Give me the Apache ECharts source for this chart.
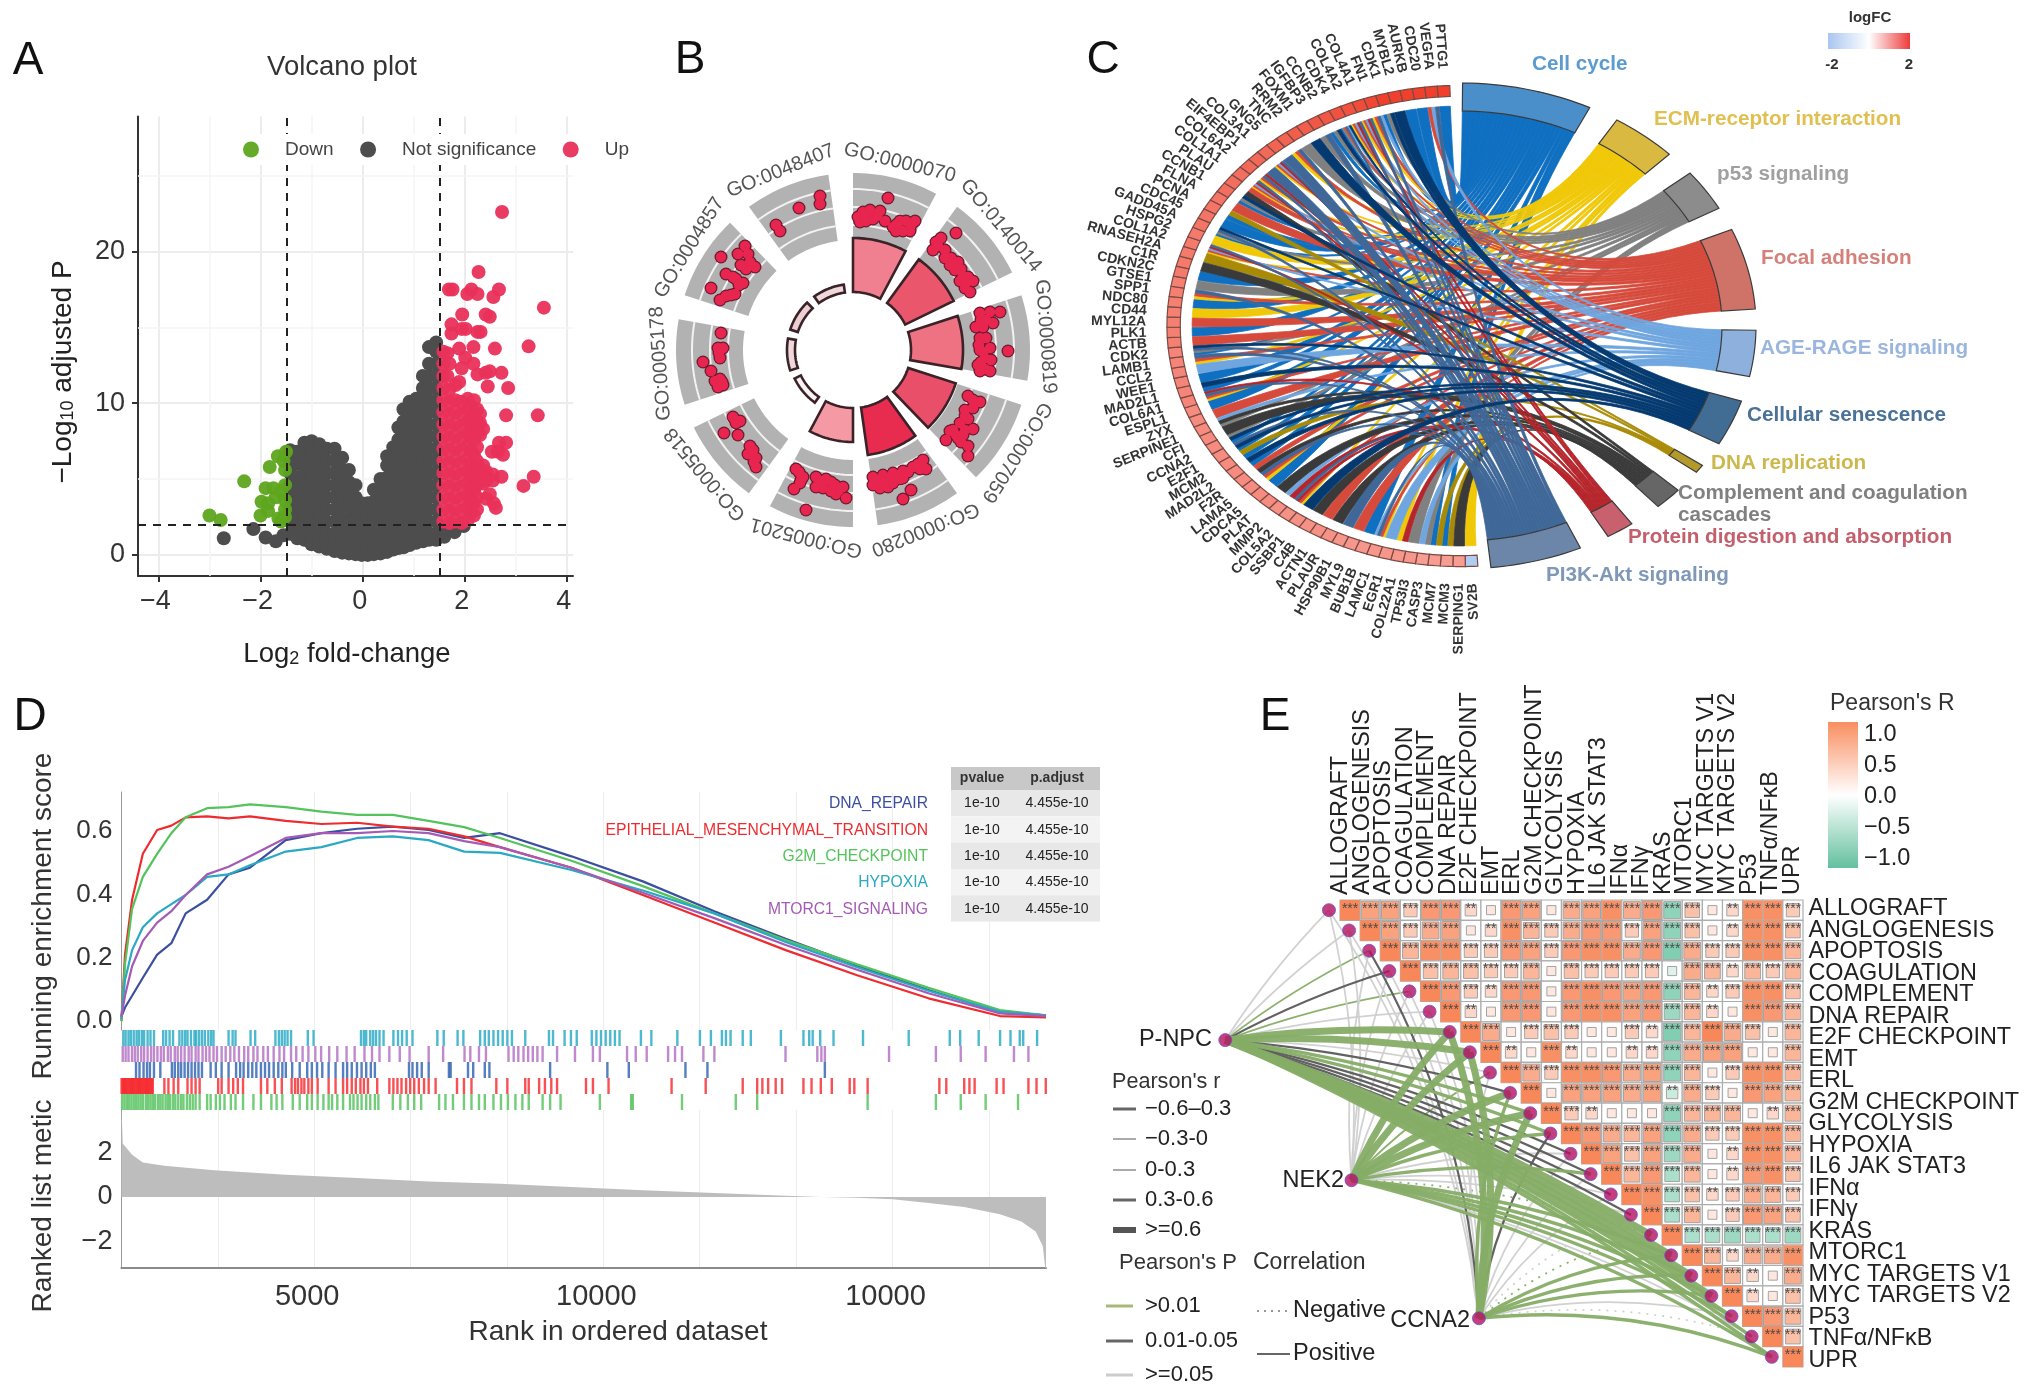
<!DOCTYPE html>
<html><head><meta charset="utf-8">
<style>html,body{margin:0;padding:0;background:#fff}#c{width:2032px;height:1394px}</style>
<script src="https://cdn.jsdelivr.net/npm/echarts@6/dist/echarts.min.js"></script>
</head><body><div id="c"></div>
<script>
const FONT='"Liberation Sans"';
/* ---------- A: volcano ---------- */
const volcanoDown=[[-2.32,4.85],[-3,2.6],[-2.78,2.3],[-1.82,5.8],[-1.66,6.5],[-1.5,6.8],[-1.55,6.2],[-1.9,4.4],[-1.75,4.4],[-1.6,4.2],[-1.7,3.8],[-1.52,3.6],[-1.52,5.6],[-1.52,4.6],[-1.98,3.5],[-1.85,3.4],[-2,2.6],[-1.85,2.9],[-1.65,2.4],[-1.52,2.5],[-1.52,3],[-1.6,2.2]];
const volcanoGreyColumns=[
[-1.42,[6.9,6.2,5.4,4.6,3.8,3,2.2,1.4]],[-1.28,[6.8,6,5.1,4.3,3.5,2.7,1.9,1.1]],[-1.14,[7.4,6.6,5.8,5,4.2,3.4,2.6,1.8,1]],
[-1,[7.5,6.7,5.9,5.1,4.3,3.5,2.7,1.9,1.2,.7]],[-.85,[7.3,6.5,5.7,4.9,4.1,3.3,2.5,1.7,1,.55]],[-.7,[7,6.2,5.4,4.6,3.8,3,2.2,1.4,.8,.4]],
[-.55,[7,6.2,5.4,4.6,3.8,3,2.2,1.4,.7,.25]],[-.4,[6.4,5.6,4.8,4,3.2,2.4,1.6,.9,.15]],[-.27,[5.6,4.8,4,3.2,2.4,1.6,.8,.1]],
[-.14,[4.6,3.8,3,2.2,1.4,.6,.05]],[-.02,[3.4,2.6,1.8,1,.3,0]],[.1,[3.4,2.6,1.8,1,.3,0]],[.22,[4.3,3.5,2.7,1.9,1.1,.4,.05]],
[.35,[5,4.2,3.4,2.6,1.8,1,.3,.1]],[.48,[5.9,6.5,5.1,4.3,3.5,2.7,1.9,1.1,.4,.2]],[.6,[7.1,6.3,5.5,4.7,3.9,3.1,2.3,1.5,.8,.35]],
[.7,[8.4,7.6,6.8,6,5.2,4.4,3.6,2.8,2,1.2,.45]],[.8,[9.6,8.8,8,7.2,6.4,5.6,4.8,4,3.2,2.4,1.6,.9,.5]],[.92,[10.1,9.3,8.5,7.7,6.9,6.1,5.3,4.5,3.7,2.9,2.1,1.3,.65]],
[1.05,[10.3,9.5,8.7,7.9,7.1,6.3,5.5,4.7,3.9,3.1,2.3,1.5,.8]],[1.18,[11.8,11,10.2,9.4,8.6,7.8,7,6.2,5.4,4.6,3.8,3,2.2,1.4,.9]],
[1.3,[13.7,12.6,11.8,11,10.2,9.4,8.6,7.8,7,6.2,5.4,4.6,3.8,3,2.2,1.4,1]],[1.44,[14,13.4,12.6,11.8,11,10.2,9.4,8.6,7.8,7,6.2,5.4,4.6,3.8,3,2.2,1.4,1]],
[-2.72,[1.1]],[-2.14,[1.7]],[-1.9,[1.15]],[-1.7,[.9]],[-1.55,[1.3]],[1.6,[1.2,1.8]],[1.8,[1.5,1.9]],[1.98,[1.9]]];
const volcanoUpColumns=[
[1.58,[2.2,3,3.8,4.6,5.4,6.2,7,7.8,8.6,9.4,10.2,11,11.8,12.6,13.4]],[1.7,[2.1,2.9,3.7,4.5,5.3,6.1,6.9,7.7,8.5,9.3,10.1,10.9]],
[1.82,[2.2,3,3.8,4.6,5.4,6.2,7,7.8,8.6,9.4,10.2,11.2]],[1.94,[2.1,2.9,3.7,4.5,5.3,6.1,6.9,7.7,8.5,9.3,10.1]],
[2.06,[2.3,3.1,3.9,4.7,5.5,6.3,7.2,8,8.8,9.6,10.3]],[2.18,[2.6,3.4,4.2,5,5.8,6.6,7.6,8.4,9.2,10.2]],[2.12,[2.8,3.6,4.4,5.2,6,6.9,7.9,8.8,9.8]],
[2.24,[3,3.8,4.6,5.4,6.2,7.1,8,8.8,9.6]],[2.3,[5,5.7,7.9,8.7,9.3]],[2.36,[4.7,5.3,5.9,8.3]],[2.42,[3.7,4.9,5.5]],[2.55,[5.3,4.9]]];
const volcanoUpSingles=[[2.73,22.6],[2.27,18.65],[1.69,17.5],[1.76,17.5],[2.05,17.2],[2.13,17.5],[2.25,17.2],[2.67,17.5],[2.56,17],[3.55,16.3],[1.95,15.85],[2.41,15.85],[2.49,15.7],[1.74,15.2],[1.74,14.6],[1.94,14.9],[2.02,14.9],[2.25,14.7],[2.31,14.7],[3.25,13.75],[2.59,13.6],[2.17,13.7],[1.89,13.6],[1.66,13.3],[2.01,13],[2.72,12],[2.85,11],[2.45,11.1],[2.41,12],[2.49,12.1],[2.25,11.9],[2.17,12.6],[1.94,12.3],[1.7,12.6],[1.66,11.8],[1.89,11.4],[2.81,9.2],[3.43,9.2],[2.81,7.4],[2.67,7.4],[2.53,6.8],[2.65,6.8],[2.75,6.6],[3.35,5.15],[3.15,4.55],[2.72,5.15],[2.49,4],[2.57,3.4],[2.61,3.1]];
const volcanoCutX=[-1.485,1.51], volcanoCutY=[2];
const expand=c=>c.flatMap(([x,ys])=>ys.map(y=>[x,y]));

/* ---------- B: GO circle ---------- */
const goTerms=['GO:0000070','GO:0140014','GO:0000819','GO:0007059','GO:0000280','GO:0005201','GO:0005518','GO:0005178','GO:0004857','GO:0048407'];
const goBarOuter=[112,112,110,108,106,92,65,66,66,66];
const goBarColor=['#f0808f','#ea566c','#ef7282','#e94f68','#e82c4f','#f59aa5','#f9f3f3','#eed8da','#eccfd3','#eed8da'];
const goPoints=[[35,152],[5,133],[10,138],[17,140],[7,128],[13,129],[20,131],[27,139],[32,129],[40,123],[47,129],[53,129],[62,129],[57,119],[50,119],[43,119],[12,132],[24,134],[44,126],[58,125],
[103,117],[83,108],[88,112],[80,100],[92,100],[98,92],[97,85],[105,88],[108,81],[115,73],[120,69],[107,69],[112,62],[117,58],[85,104],[92,92],[102,80],[110,74],[113,68],
[137,38],[147,38],[127,37],[123,23],[130,23],[140,27],[127,12],[133,12],[127,0],[137,2],[155,-1],[132,-8],[138,-10],[125,-15],[132,-19],[127,-21],[137,-21],[128,30],[126,5],[130,-2],[128,-12],[133,30],
[115,-46],[127,-52],[120,-58],[112,-60],[115,-69],[107,-73],[120,-79],[97,-81],[103,-85],[93,-90],[108,-92],[115,-96],[115,-106],[120,-50],[112,-66],[112,-80],[100,-80],[105,-88],[110,-85],
[20,-127],[30,-125],[40,-123],[50,-121],[60,-117],[70,-110],[73,-119],[67,-119],[47,-129],[27,-138],[35,-137],[58,-140],[50,-149],[40,-133],[20,-135],[25,-130],[35,-128],[45,-125],[55,-122],[65,-114],[30,-132],[50,-128],
[-57,-119],[-50,-127],[-53,-133],[-59,-139],[-47,-160],[-37,-127],[-27,-129],[-18,-135],[-10,-137],[-7,-148],[-17,-144],[-30,-138],[-37,-137],[-54,-122],[-52,-130],[-32,-131],[-22,-132],[-14,-140],[-22,-141],
[-120,-67],[-113,-71],[-115,-85],[-129,-83],[-103,-96],[-105,-104],[-97,-108],[-97,-117],[-117,-73],[-118,-70],[-100,-100],[-99,-112],
[-132,17],[-135,2],[-130,2],[-133,-8],[-150,-12],[-142,-21],[-133,-29],[-130,-35],[-135,-37],[-138,-31],[-134,-3],[-136,-32],[-131,-32],
[-132,93],[-142,62],[-108,104],[-115,96],[-105,96],[-98,83],[-107,81],[-127,76],[-117,71],[-110,67],[-118,56],[-127,54],[-133,50],[-112,85],[-120,73],[-122,55],[-114,65],[-103,88],
[-77,125],[-73,119],[-54,142],[-33,154],[-33,146]];

/* ---------- C: chord ---------- */
const pathways=['Cell cycle','ECM-receptor interaction','p53 signaling','Focal adhesion','AGE-RAGE signaling','Cellular senescence','DNA replication','Complement and coagulation\ncascades','Protein digestion and absorption','PI3K-Akt signaling'];
const pathwayCode='CEPFASDXRK';
const pathwayStart=[0.5,32,51,66.6,91,108,125,132.5,144.5,156];
const pathwayEnd=[26,45,61,86,102,119,127,138,150,174];
const ribbonColor=['#0f6fc0','#f0c808','#808080','#d64a3c','#6fa6e0','#053a70','#a88a05','#3a3a3a','#b5252b','#3f6797'];
const bandColor=['#4a8fca','#d9b940','#8c8c8c','#cf7268','#8eb0dc','#416c93','#b39a2b','#666666','#c8606e','#6c86a9'];
const pathwayLabelColor=['#5b9bd0','#e0c050','#a0a0a0','#d4817a','#9ab5de','#4a7198','#cdb84d','#808080','#c4606d','#7f98b8'];
const genes=['SV2B','SERPING1','MCM3','MCM7','CASP3','TP53I3','COL22A1','EGR1','LAMC1','BUB1B','MYL9','HSP90B1','PLAUR','ACTN1','C4B','SSBP1','COL5A2','MMP2','PLAT','CDCA5','LAMA5','F2R','MAD2L2','MCM2','E2F1','CCNA2','CFI','SERPINE1','ZYX','ESPL1','COL6A1','MAD2L1','WEE1','CCL2','LAMB1','CDK2','ACTB','PLK1','MYL12A','CD44','NDC80','SPP1','GTSE1','CDKN2C','C1R','RNASEH2A','COL1A2','HSPG2','GADD45A','CDC45','PCNA','FLNA','CCNB1','PLAU','COL1A1','COL6A2','EIF4EBP1','COL3A1','GNG5','TNC','RRM2','FOXM1','IGFBP3','CCNB2','CDK4','COL4A2','COL4A1','FN1','CDK1','MYBL2','AURKB','CDC20','VEGFA','PTTG1'];
const geneLinks=['E','X','DC','DC','PA','P','RE','A','EFKA','C','F','K','X','F','X','S','EFRK','RA','X','C','EFK','XF','CS','CD','CSK','CSP','X','PXA','F','C','EFKR','CS','C','A','EFK','CPKS','F','C','F','E','C','EFK','P','C','X','D','EFARK','E','CPKS','C','CD','F','CPS','XF','EFARK','EFKR','K','EFARK','K','EFK','P','S','PK','CPS','CPFKAS','EFARK','EFARK','EFKA','CPS','S','C','C','FAK','C'];
const geneLogFC=[-1.2,.85,.85,.85,.85,.9,.9,.9,.9,.9,.9,.9,.95,.95,.95,.95,.95,.95,1,1,1,1,1,1,1,1,1,1,1,1,1.05,1.05,1.05,1.05,1.05,1.05,1.1,1.1,1.1,1.1,1.1,1.1,1.1,1.15,1.15,1.15,1.15,1.15,1.2,1.2,1.2,1.2,1.25,1.25,1.25,1.3,1.3,1.3,1.35,1.35,1.4,1.4,1.45,1.45,1.5,1.5,1.55,1.6,1.65,1.7,1.75,1.8,1.85,1.9];

/* ---------- D: GSEA ---------- */
const gseaRanks=[1667,1729,1852,2038,2285,2531,2778,3149,3520,3890,4508,5125,5743,6360,6978,7595,8213,9448,10683,11918,13153,14388,15623,16858,17654];
const esG2M=[0,.18,.354,.455,.528,.593,.643,.672,.675,.684,.675,.661,.651,.651,.632,.612,.578,.506,.426,.34,.256,.179,.105,.035,.018];
const esEMT=[0,.21,.383,.528,.603,.617,.643,.646,.64,.646,.632,.622,.626,.614,.607,.583,.549,.484,.398,.311,.224,.145,.072,.016,.012];
const esDNA=[.014,.043,.08,.137,.21,.246,.34,.383,.463,.484,.571,.593,.607,.614,.603,.578,.593,.52,.441,.347,.26,.176,.098,.028,.018];
const esHYP=[.007,.13,.224,.296,.34,.369,.398,.455,.463,.492,.535,.549,.578,.583,.571,.535,.531,.477,.412,.34,.25,.17,.096,.03,.018];
const esMTOR=[.014,.08,.173,.253,.311,.347,.398,.463,.487,.52,.578,.593,.593,.6,.593,.568,.549,.484,.405,.325,.24,.162,.088,.024,.016];
const geneSets=['DNA_REPAIR','EPITHELIAL_MESENCHYMAL_TRANSITION','G2M_CHECKPOINT','HYPOXIA','MTORC1_SIGNALING'];
const geneSetColor=['#3b4fa0','#ee2b2f','#55c35c','#2aa9c2','#a45bb5'];
const tableHead=['pvalue','p.adjust'];
const tablePvalue=['1e-10','1e-10','1e-10','1e-10','1e-10'];
const tableAdjust=['4.455e-10','4.455e-10','4.455e-10','4.455e-10','4.455e-10'];
const rugHypoxia=[1700,1740,1790,1830,1880,1930,1970,2020,2060,2120,2170,2230,2390,2440,2500,2560,2670,2720,2770,2810,2870,2930,2960,3010,3060,3110,3170,3220,3260,3520,3590,3640,3900,3980,4330,4390,4440,4490,4540,4600,4890,4990,5810,5860,5900,5970,6020,6070,6130,6200,6370,6450,6520,6600,6700,7130,7240,7480,7580,7870,7950,8020,8100,8180,8260,8340,8420,8650,9060,9130,9330,9440,9540,9800,9880,9960,10040,10120,10200,10280,10650,10830,11280,11670,11860,12050,12120,12200,12410,12550,13070,13460,13560,13620,13750,13980,14490,15280,15990,16170,16490,16860,17040,17200,17260,17500];
const rugMtorc=[1690,1740,1790,1850,1900,1950,2010,2060,2120,2180,2230,2290,2350,2400,2470,2520,2590,2640,2700,2760,2830,2880,2950,3000,3070,3130,3190,3260,3320,3400,3470,3550,3620,3700,3790,3860,3950,4020,4120,4200,4300,4400,4480,4600,4690,4800,4900,5020,5120,5260,5400,5560,5700,5870,6000,6130,6300,6480,6650,6980,7230,7600,7700,7850,7970,8360,8450,8530,8620,8700,8780,8860,8950,9200,9510,9820,9940,10410,10560,10750,11120,11240,11360,11730,11920,13150,13700,13770,13830,14940,15750,16180,16610,17100,17350];
const rugDNA=[1920,1980,2050,2110,2160,2230,2340,2540,2590,2650,2700,2760,2820,2880,2940,3000,3060,3210,3300,3400,3520,3650,3720,3780,3860,3930,4000,4080,4150,4220,4300,4380,4450,4510,4620,4750,4880,4960,5050,5140,5250,5370,5500,5570,5650,5740,5820,5900,5980,6050,6640,6700,6780,6860,6980,7330,7360,7660,7750,7950,8030,9080,10070,10440,11420,11800,13830];
const rugEMT=[1670,1690,1710,1730,1750,1770,1790,1810,1830,1850,1870,1890,1910,1930,1950,1970,1990,2010,2030,2050,2070,2090,2110,2130,2150,2170,2190,2210,2410,2480,2570,2650,2810,2880,2950,3020,3340,3400,3520,3600,3680,3770,4080,4190,4320,4440,4610,4670,4720,4780,4830,4900,4960,5060,5250,5370,5500,5570,5650,5720,5800,5860,5930,6090,6300,6370,6440,6510,6590,6660,6730,6810,6900,6980,7100,7470,7590,7720,8150,8340,8650,8710,8890,8990,9100,9200,9700,9820,10090,11180,11770,12410,12660,12750,12850,12980,13090,13460,13600,13760,13950,14260,14340,14570,15810,15930,16240,16330,16420,16800,16920,17350,17490,17650];
const rugG2M=[1680,1720,1760,1800,1840,1880,1920,1960,2000,2040,2090,2130,2170,2210,2250,2300,2340,2380,2430,2470,2510,2560,2600,2650,2700,2740,2800,2850,2900,2950,3020,3150,3210,3300,3370,3450,3560,3640,3770,3950,4080,4260,4350,4450,4630,4750,4880,4960,5060,5160,5250,5310,5400,5500,5620,5680,5750,5820,5900,5970,6050,6110,6360,6490,6620,6730,6850,7160,7270,7400,7590,7720,7850,7950,8100,8230,8350,8480,8600,8710,8950,9080,9260,9940,10480,10510,11360,12290,12660,14570,15750,16180,16610,17170];
const rugRows=[rugHypoxia,rugMtorc,rugDNA,rugEMT,rugG2M];
const rugNames=['HYPOXIA','MTORC1_SIGNALING','DNA_REPAIR','EPITHELIAL_MESENCHYMAL_TRANSITION','G2M_CHECKPOINT'];
const rugColor=['#22a7c2','#b06cc0','#2a5fae','#f5262a','#4fbf58'];
const metricRanks=[1667,1690,1852,2038,2408,3272,4508,5743,6978,8213,9448,10683,11918,13153,13770,14388,15005,15623,16240,16858,17228,17475,17598,17654];
const metricValues=[4.2,2.4,1.9,1.55,1.4,1.2,1,.85,.7,.6,.45,.3,.18,.06,0,-.03,-.1,-.27,-.45,-.78,-1.1,-1.55,-2.2,-3.5];
const gseaGrid=[3333,5000,6667,8333,10000,11667,13333,15000,16667];

/* ---------- E: correlation ---------- */
const hallmarkLabels=['ALLOGRAFT','ANGLOGENESIS','APOPTOSIS','COAGULATION','COMPLEMENT','DNA REPAIR','E2F CHECKPOINT','EMT','ERL','G2M CHECKPOINT','GLYCOLYSIS','HYPOXIA','IL6 JAK STAT3','IFNα','IFNγ','KRAS','MTORC1','MYC TARGETS V1','MYC TARGETS V2','P53','TNFα/NFκB','UPR'];
const corrTenths=[
[10,7,7,3,8,8,2,1,8,7,1,6,7,9,6,8,-6,4,1,2,9,9,3],[10,7,3,6,7,1,2,9,5,3,6,8,8,3,7,-6,4,1,2,9,9,4],[10,5,9,9,3,3,8,7,3,8,9,9,6,8,-7,6,3,3,9,9,5],
[10,4,5,4,3,3,5,1,4,3,3,3,3,-1,6,5,2,5,3,5],[10,8,3,2,8,8,1,8,9,8,7,8,-6,5,2,3,9,9,4],[10,2,1,8,8,1,8,9,9,7,8,-5,5,2,1,9,8,5],
[10,6,1,3,4,3,1,1,3,2,-7,5,10,6,4,1,5],[10,2,1,9,2,1,1,2,2,-6,6,7,7,1,1,5],[10,6,3,9,9,8,6,7,-6,5,1,3,9,9,5],[10,1,7,7,7,6,7,-2,6,3,1,8,7,5],
[10,3,2,1,1,1,-6,5,5,5,1,2,5],[10,8,6,5,7,-6,6,3,3,9,9,5],[10,7,4,7,-5,6,1,2,9,9,5],[10,5,8,-4,5,1,2,8,9,4],[10,9,-4,4,2,3,6,5,3],[10,-4,5,1,3,8,7,4],
[10,-4,-4,-5,-4,-4,-5],[10,5,2,6,6,9],[10,5,2,1,6],[10,2,1,4],[10,8,5],[10,4],[10]];
const sourceNames=['P-NPC','NEK2','CCNA2'];
const sourcePos=[[-6.2,6.4],[.07,13.3],[6.4,20.1]];
const sourceCurve=[.05,.08,.12];
const linkR=[
[.1,.15,.2,.4,.25,.15,.7,.65,.15,.25,.55,.5,.2,.3,.3,.3,.6,.65,.7,.6,.5,.5,.5],
[.1,.1,.15,.15,.15,.1,.65,.65,.25,.6,.65,.5,.2,.3,.2,.15,-.2,.55,.55,.45,.3,.2,.35],
[.1,.1,.45,.1,.2,.15,.7,.7,.2,.55,.6,.4,.2,.2,.25,-.1,-.2,.45,.55,.4,.2,-.1,.4]];
const linkP=[
['l','l','g','d','g','l','g','g','l','d','g','g','d','d','d','d','g','g','g','g','g','g','g'],
['l','l','l','l','l','l','g','g','g','g','g','g','l','g','l','l','g','g','g','g','g','l','g'],
['l','l','d','l','l','l','g','g','l','g','g','d','l','l','l','l','g','g','g','g','l','l','g']];

/* ---------- helpers ---------- */
const T=(text,x,y,size,o={})=>({type:'text',x,y,rotation:o.rot||0,z:o.z||50,style:{text,fill:o.color||'#222',font:`${o.bold?'bold ':''}${size}px ${FONT}`,align:o.align||'left',verticalAlign:'middle',rich:o.rich}});
const R=(x,y,w,h,fill,z)=>({type:'rect',shape:{x,y,width:w,height:h},z:z||40,style:{fill}});
const L=(x1,y,x2,color,w,dash)=>({type:'line',shape:{x1,y1:y,x2,y2:y},z:40,style:{stroke:color,lineWidth:w,lineDash:dash}});
const hex=c=>[1,3,5].map(i=>parseInt(c.substr(i,2),16));
const mix=(a,b,t)=>{const A=hex(a),B=hex(b);return 'rgb('+A.map((v,i)=>Math.round(v+(B[i]-v)*t)).join(',')+')';};
const rad=d=>d*Math.PI/180;
const onCircle=(r,deg)=>[r*Math.sin(rad(deg)),r*Math.cos(rad(deg))];
const arcPoints=(api,a,b,r0,r1)=>{const p=[];const n=Math.max(3,Math.ceil(Math.abs(b-a)/1.5));
  for(let i=0;i<=n;i++)p.push(api.coord(onCircle(r1,a+(b-a)*i/n)));
  for(let i=n;i>=0;i--)p.push(api.coord(onCircle(r0,a+(b-a)*i/n)));return p;};
const hiddenAxis=(min,max,gridIndex)=>({type:'value',min,max,gridIndex,show:false,axisLine:{show:false},splitLine:{show:false},axisLabel:{show:false},axisTick:{show:false}});
const idx=a=>a.map((_,i)=>[i]);

/* chord link layout derived from the data tables */
const geneSpan=181.5/genes.length, geneFrom=176.5;
const chordLinks=[];
genes.forEach((g,gi)=>{const codes=geneLinks[gi].split('');codes.forEach((c,k)=>{
  const a=geneFrom+gi*geneSpan, w=geneSpan/codes.length;
  chordLinks.push({gene:gi,path:pathwayCode.indexOf(c),a0:a+k*w+w*.03,a1:a+(k+1)*w-w*.03});});});
pathways.forEach((p,pi)=>{const ls=chordLinks.filter(l=>l.path===pi).sort((x,y)=>y.gene-x.gene||y.a0-x.a0);
  const w=(pathwayEnd[pi]-pathwayStart[pi])/ls.length;
  ls.forEach((l,i)=>{l.b0=pathwayStart[pi]+i*w;l.b1=pathwayStart[pi]+(i+1)*w;});});
const drawOrder=[0,1,2,3,4,6,7,8,9,5];
chordLinks.sort((x,y)=>drawOrder.indexOf(x.path)-drawOrder.indexOf(y.path));

/* ribbon edge: cubic curve that leaves each rim radially */
const RADIAL=.42;
const quad=(p0,p1,t)=>{const u=1-t,a=u*u*u+3*u*u*t*RADIAL,b=t*t*t+3*u*t*t*RADIAL;return [a*p0[0]+b*p1[0],a*p0[1]+b*p1[1]];};
const corrCells=[];corrTenths.forEach((row,i)=>row.forEach((v,k)=>corrCells.push([i+k,i,v/10])));
const corrColor=r=>{const t=Math.pow(Math.min(1,Math.abs(r)),.7);return r>=0?mix('#ffffff','#f8875a',t):mix('#ffffff','#5fc09c',t);};
const linkColor={g:'#86ad66',d:'#5a5a5a',l:'#cfcfcf'};
const linkWidth=(r,p)=>{const a=Math.abs(r);if(p==='d')return 2.2;return a>=.6?7:a>=.3?3.4:1.8;};
const nodePos=hallmarkIdx=>[hallmarkIdx-1.05,hallmarkIdx];
const eLinks=[];
sourcePos.forEach((s,si)=>linkR[si].forEach((r,t)=>{const e=nodePos(t);
  eLinks.push({coords:[s,e],lineStyle:{color:linkColor[linkP[si][t]],width:linkWidth(r,linkP[si][t]),type:r<0?[2,6]:'solid',curveness:e[0]>=s[0]?sourceCurve[si]:-sourceCurve[si],opacity:.95}});}));
eLinks.sort((a,b)=>a.lineStyle.width-b.lineStyle.width);

const axisCommon={axisLine:{onZero:false,lineStyle:{color:'#333',width:2}},axisTick:{length:6,lineStyle:{color:'#333',width:2}},axisLabel:{color:'#333',fontFamily:FONT,fontSize:27},splitLine:{show:false}};
const minus=v=>String(v).replace('-','−');
const mkGrid=(left,top,width,height)=>({left,top,width,height,containLabel:false,outerBoundsMode:'none'});

const option={
 animation:false,backgroundColor:'#fff',textStyle:{fontFamily:FONT},
 grid:[
  mkGrid(138,116.5,435,459.5),
  mkGrid(663,160,380,380),
  mkGrid(1164,83,592,486),
  mkGrid(121.4,792,924.6,238),
  mkGrid(121.4,1030,924.6,80),
  mkGrid(121.4,1110,924.6,158),
  mkGrid(1179,900,624,467),
  mkGrid(1330,898,473.4,473)
 ],
 xAxis:[
  {type:'value',gridIndex:0,min:-4.4,max:4.12,...axisCommon,axisTick:{...axisCommon.axisTick,customValues:[-4,-2,0,2,4]},axisLabel:{...axisCommon.axisLabel,margin:12,padding:[0,6,0,0],customValues:[-4,-2,0,2,4],formatter:minus},splitLine:{show:true,lineStyle:{color:'#ececec',width:2}}},
  hiddenAxis(-190,190,1),hiddenAxis(-1,1,2),
  {type:'value',gridIndex:3,min:1667,max:17654,axisLine:{show:false,onZero:false},axisTick:{show:false,customValues:gseaGrid},axisLabel:{show:false},splitLine:{show:true,lineStyle:{color:'#ededed',width:1}}},
  {type:'value',gridIndex:4,min:1667,max:17654,axisLine:{show:false,onZero:false},axisTick:{show:false},axisLabel:{show:false},splitLine:{show:false}},
  {type:'value',gridIndex:5,min:1667,max:17654,axisLine:{onZero:false,lineStyle:{color:'#8a8a8a',width:2}},axisTick:{show:false,customValues:gseaGrid},axisLabel:{color:'#333',fontFamily:FONT,fontSize:29,margin:14,padding:[0,14,0,0],customValues:[5000,10000,15000],formatter:v=>v===15000?'10000':String(v)},splitLine:{show:true,lineStyle:{color:'#ededed',width:1}}},
  hiddenAxis(-8.5,22.5,6),
  {type:'category',gridIndex:7,position:'top',data:hallmarkLabels,show:false,axisLine:{show:false},axisTick:{show:false},axisLabel:{show:false},splitLine:{show:false}}
 ],
 yAxis:[
  {type:'value',gridIndex:0,min:-1.39,max:28.9,...axisCommon,axisTick:{...axisCommon.axisTick,customValues:[0,10,20]},axisLabel:{...axisCommon.axisLabel,margin:13,customValues:[0,10,20]},splitLine:{show:true,lineStyle:{color:'#ececec',width:2}}},
  hiddenAxis(-190,190,1),hiddenAxis(-1,1,2),
  {type:'value',gridIndex:3,min:-.028,max:.723,axisLine:{onZero:false,lineStyle:{color:'#999',width:1}},axisTick:{show:false,customValues:[0,.2,.4,.6]},axisLabel:{color:'#333',fontFamily:FONT,fontSize:26,margin:9,customValues:[0,.2,.4,.6],formatter:v=>v.toFixed(1)},splitLine:{show:false}},
  {type:'category',gridIndex:4,inverse:true,data:rugNames,show:false,axisLine:{show:false},axisTick:{show:false},axisLabel:{show:false},splitLine:{show:false}},
  {type:'value',gridIndex:5,min:-3.19,max:3.91,axisLine:{onZero:false,lineStyle:{color:'#999',width:1}},axisTick:{show:false,customValues:[-2,0,2]},axisLabel:{color:'#333',fontFamily:FONT,fontSize:27,margin:9,customValues:[-2,0,2],formatter:minus},splitLine:{show:false}},
  {...hiddenAxis(-.5,22.5,6),inverse:true},
  {type:'category',gridIndex:7,position:'right',inverse:true,data:hallmarkLabels,axisLine:{show:false},axisTick:{show:false},axisLabel:{interval:0,margin:5,color:'#222',fontFamily:FONT,fontSize:23.4},splitLine:{show:false}}
 ],
 legend:{data:['Down','Not significance','Up'],left:233,top:134,itemWidth:20,itemHeight:16,icon:'circle',itemGap:26.5,padding:[6,10],backgroundColor:'#fff',z:20,textStyle:{color:'#444',fontFamily:FONT,fontSize:19,padding:[0,0,0,19]}},
 series:[
  /* A */
  {type:'line',xAxisIndex:0,yAxisIndex:0,data:[],z:1,markLine:{silent:true,symbol:'none',z:1,label:{show:false},lineStyle:{color:'#f4f4f4',width:1.5,type:'solid'},data:[-3,-1,1,3].map(v=>({xAxis:v})).concat([5,15,25].map(v=>({yAxis:v})))}},
  {type:'scatter',name:'Not significance',xAxisIndex:0,yAxisIndex:0,data:expand(volcanoGreyColumns),symbolSize:14,itemStyle:{color:'#4d4d4d',opacity:1},z:2},
  {type:'scatter',name:'Down',xAxisIndex:0,yAxisIndex:0,data:volcanoDown,symbolSize:14,itemStyle:{color:'#5da51e',opacity:.95},z:3},
  {type:'scatter',name:'Up',xAxisIndex:0,yAxisIndex:0,data:expand(volcanoUpColumns).concat(volcanoUpSingles),symbolSize:14,itemStyle:{color:'#e9305a',opacity:.95},z:3},
  {type:'line',xAxisIndex:0,yAxisIndex:0,data:[],z:4,markLine:{silent:true,symbol:'none',label:{show:false},z:4,lineStyle:{color:'#222',width:2,type:[8,7]},data:[...volcanoCutX.map(v=>({xAxis:v})),...volcanoCutY.map(v=>({yAxis:v}))]}},
  /* B */
  {type:'custom',xAxisIndex:1,yAxisIndex:1,data:idx(goTerms),encode:{x:0,y:0},z:2,renderItem:(p,api)=>{const i=p.dataIndex,a=i*36,b=a+28,ch=[];
    ch.push({type:'polygon',shape:{points:arcPoints(api,a,b,110,177)},style:{fill:'#b2b2b2',stroke:null}});
    [125,143,161].forEach(r=>{const pts=[];for(let t=0;t<=14;t++)pts.push(api.coord(onCircle(r,a+t*2)));ch.push({type:'polyline',shape:{points:pts},style:{stroke:'#f2f2f2',lineWidth:2,fill:null}});});
    ch.push({type:'polygon',shape:{points:arcPoints(api,a,b,58,goBarOuter[i])},style:{fill:goBarColor[i],stroke:'#3a2228',lineWidth:2.6}});
    const c=api.coord(onCircle(193,a+14));
    ch.push({type:'text',x:c[0],y:c[1],rotation:-rad(a+14),style:{text:goTerms[i],fill:'#555',font:`20px ${FONT}`,align:'center',verticalAlign:'middle'}});
    return {type:'group',children:ch};}},
  {type:'scatter',xAxisIndex:1,yAxisIndex:1,data:goPoints,symbolSize:13,itemStyle:{color:'#6f1a30',opacity:1},z:3},
  {type:'scatter',xAxisIndex:1,yAxisIndex:1,data:goPoints,symbolSize:10.5,itemStyle:{color:'#e8254e',opacity:1},z:4},
  /* C */
  {type:'custom',xAxisIndex:2,yAxisIndex:2,data:idx(chordLinks),encode:{x:0,y:0},z:2,renderItem:(p,api)=>{const l=chordLinks[p.dataIndex],pts=[],N=26;
    const A0=onCircle(.905,l.a0),A1=onCircle(.905,l.a1),B0=onCircle(.885,l.b0),B1=onCircle(.885,l.b1);
    for(let t=0;t<=N;t++)pts.push(api.coord(quad(A0,B1,t/N)));
    for(let t=1;t<=4;t++)pts.push(api.coord(onCircle(.885,l.b1+(l.b0-l.b1)*t/4)));
    for(let t=0;t<=N;t++)pts.push(api.coord(quad(B0,A1,t/N)));
    for(let t=1;t<4;t++)pts.push(api.coord(onCircle(.905,l.a1+(l.a0-l.a1)*t/4)));
    return {type:'polygon',shape:{points:pts},style:{fill:ribbonColor[l.path],stroke:ribbonColor[l.path],lineWidth:.8}};}},
  {type:'custom',xAxisIndex:2,yAxisIndex:2,data:idx(pathways),encode:{x:0,y:0},z:3,renderItem:(p,api)=>{const i=p.dataIndex;
    return {type:'polygon',shape:{points:arcPoints(api,pathwayStart[i],pathwayEnd[i],.885,1)},style:{fill:bandColor[i],stroke:'#3b3b3b',lineWidth:1.2}};}},
  {type:'custom',xAxisIndex:2,yAxisIndex:2,data:idx(genes),encode:{x:0,y:0},z:3,renderItem:(p,api)=>{const i=p.dataIndex,a=geneFrom+i*geneSpan,v=geneLogFC[i];
    const fill=v<0?mix('#ffffff','#7fa8e8',-v/2):mix('#ffffff','#f0402c',Math.min(1,v/1.65));
    const m=api.coord(onCircle(1.06,a+geneSpan/2)),c=api.coord([0,0]);
    return {type:'group',children:[
      {type:'polygon',shape:{points:arcPoints(api,a,a+geneSpan,.945,.99)},style:{fill,stroke:'#7a4a45',lineWidth:1.2}},
      {type:'text',x:m[0],y:m[1],rotation:-Math.atan2(c[1]-m[1],c[0]-m[0]),style:{text:genes[i],fill:'#333',font:`bold 14px ${FONT}`,align:'right',verticalAlign:'middle'}}]};}},
  /* D */
  ...geneSets.map((n,i)=>({type:'line',name:n,xAxisIndex:3,yAxisIndex:3,showSymbol:false,symbol:'none',z:3,lineStyle:{color:geneSetColor[i],width:2.2},
     data:gseaRanks.map((r,k)=>[r,[esDNA,esEMT,esG2M,esHYP,esMTOR][i][k]])})),
  ...rugRows.map((row,i)=>({type:'scatter',xAxisIndex:4,yAxisIndex:4,symbol:'rect',symbolSize:[2.4,16],itemStyle:{color:rugColor[i],opacity:.8},
     data:row.map(v=>[v,rugNames[i]])})),
  {type:'line',xAxisIndex:5,yAxisIndex:5,showSymbol:false,symbol:'none',z:3,lineStyle:{width:0},areaStyle:{color:'#bdbdbd',opacity:1,origin:0},data:metricRanks.map((r,i)=>[r,metricValues[i]])},
  /* E */
  {type:'lines',coordinateSystem:'cartesian2d',xAxisIndex:6,yAxisIndex:6,data:eLinks,z:2,silent:true,symbol:['none','none']},
  {type:'custom',xAxisIndex:6,yAxisIndex:6,data:corrCells,encode:{x:0,y:1},z:3,renderItem:(p,api)=>{
    const c=api.coord([api.value(0),api.value(1)]),w=api.size([1,0])[0],h=api.size([0,1])[1],r=api.value(2),a=Math.abs(r),s=Math.pow(a,.35);
    const ch=[{type:'rect',shape:{x:c[0]-w/2,y:c[1]-h/2,width:w,height:h},style:{fill:'#fff',stroke:'#adadad',lineWidth:1.2}},
      {type:'rect',shape:{x:c[0]-w*s/2,y:c[1]-h*s/2,width:w*s,height:h*s},style:{fill:corrColor(r),stroke:a<.85?'#a3a3a3':null,lineWidth:1}}];
    if(a>=.2)ch.push({type:'text',x:c[0],y:c[1]-1.5,style:{text:a>=.3?'***':'**',fill:'#4a4a4a',font:`14px ${FONT}`,align:'center',verticalAlign:'middle'}});
    return {type:'group',children:ch};}},
  {type:'scatter',xAxisIndex:6,yAxisIndex:6,data:hallmarkLabelsNodes(),symbolSize:13,z:5,itemStyle:{color:'#b40f5f',borderColor:'#6c55c4',borderWidth:1}},
  {type:'scatter',xAxisIndex:6,yAxisIndex:6,data:sourcePos,symbolSize:13,z:5,itemStyle:{color:'#b40f5f',borderColor:'#6c55c4',borderWidth:1}},
  {type:'scatter',xAxisIndex:7,yAxisIndex:7,data:[]}
 ],
 graphic:{elements:[
  T('A',28,61,46,{align:'center',color:'#111'}),T('B',690,60,46,{align:'center',color:'#111'}),T('C',1103,60,46,{align:'center',color:'#111'}),T('D',30,717,46,{align:'center',color:'#111'}),T('E',1275,717,46,{align:'center',color:'#111'}),
  /* A text */
  T('Volcano plot',342,67,27.5,{align:'center',color:'#333'}),
  T('{a|−Log}{s|10}{a| adjusted P}',63,372,28,{align:'center',rot:Math.PI/2,rich:{a:{font:`28px ${FONT}`,color:'#333'},s:{font:`18px ${FONT}`,color:'#333',padding:[10,0,0,0]}}}),
  T('{a|Log}{s|2}{a| fold-change}',347,654,27.5,{align:'center',rich:{a:{font:`27.5px ${FONT}`,color:'#333'},s:{font:`18px ${FONT}`,color:'#333',padding:[10,0,0,0]}}}),
  /* C text */
  ...pathways.map((n,i)=>{const pos=[[1532,64],[1654,119],[1717,174],[1761,258],[1760,348],[1747,415],[1711,463],[1678,504],[1628,537],[1546,575]][i];
     return {type:'text',x:pos[0],y:pos[1],z:50,style:{text:n,fill:pathwayLabelColor[i],font:`bold 20.7px ${FONT}`,align:'left',verticalAlign:'middle',lineHeight:22}};}),
  T('logFC',1870,18,15,{align:'center',bold:true,color:'#333'}),
  {type:'rect',shape:{x:1828,y:33,width:82,height:16},z:40,style:{fill:new echarts.graphic.LinearGradient(0,0,1,0,[{offset:0,color:'#a9c6ef'},{offset:.5,color:'#ffffff'},{offset:1,color:'#ee3b3b'}])}},
  T('-2',1832,65,15,{align:'center',bold:true,color:'#333'}),T('2',1909,65,15,{align:'center',bold:true,color:'#333'}),
  /* D text */
  T('Running enrichment score',43,916,28,{align:'center',rot:Math.PI/2,color:'#333'}),
  T('Ranked list metic',43,1206,28,{align:'center',rot:Math.PI/2,color:'#333'}),
  T('Rank in ordered dataset',618,1332,28,{align:'center',color:'#333'}),
  ...geneSets.map((n,i)=>T(n,928,804+26.3*i,15.7,{align:'right',color:geneSetColor[i]})),
  R(951,767,63,23,'#c8c8c8'),R(1014,767,86,23,'#c8c8c8'),
  T(tableHead[0],982,778,14,{align:'center',bold:true,color:'#333'}),T(tableHead[1],1057,778,14,{align:'center',bold:true,color:'#333'}),
  ...tablePvalue.flatMap((v,i)=>[R(951,790+26.3*i,149,26.3,i%2?'#f3f3f3':'#e8e8e8'),T(v,982,803.5+26.3*i,14,{align:'center',color:'#222'}),T(tableAdjust[i],1057,803.5+26.3*i,14,{align:'center',color:'#222'})]),
  /* E text */
  ...hallmarkLabels.map((n,i)=>T(n,1341+21.5*i,895,23.4,{rot:Math.PI/2})),
  ...sourceNames.map((n,i)=>T(n,[1212,1344,1470][i],[1040,1181,1321][i],23.5,{align:'right'})),
  T("Pearson's R",1830,704,23,{color:'#333'}),
  {type:'rect',shape:{x:1828,y:722,width:30,height:146},z:40,style:{fill:new echarts.graphic.LinearGradient(0,0,0,1,[{offset:0,color:'#f98e60'},{offset:.5,color:'#ffffff'},{offset:1,color:'#63c09e'}])}},
  ...['1.0','0.5','0.0','−0.5','−1.0'].map((t,i)=>T(t,1864,735+31*i,23.5)),
  T("Pearson's r",1112,1082,21.6,{color:'#333'}),
  ...['−0.6–0.3','−0.3-0','0-0.3','0.3-0.6','>=0.6'].map((t,i)=>T(t,1145,1109+30.3*i,22)),
  L(1113,1109,1136,'#666',3),L(1113,1139,1136,'#aaa',2),L(1113,1170,1136,'#aaa',2),L(1113,1200,1136,'#666',3),L(1113,1230,1136,'#555',6),
  T("Pearson's P",1119,1263,22,{color:'#333'}),T('Correlation',1253,1263,23,{color:'#333'}),
  T('>0.01',1145,1306,22),T('0.01-0.05',1145,1341,22),T('>=0.05',1145,1375,22),
  L(1106,1306,1133,'#a9b878',3),L(1106,1341,1133,'#666',3),L(1106,1375,1133,'#ccc',3),
  L(1257,1311,1290,'#999',2,[2,5]),T('Negative',1293,1311,23.5),L(1257,1354,1290,'#666',2),T('Positive',1293,1354,23.5)
 ]}
};
function hallmarkLabelsNodes(){return corrTenths.map((_,i)=>nodePos(i));}
const chart=echarts.init(document.getElementById('c'),null,{width:2032,height:1394});
chart.setOption(option);
</script></body></html>
